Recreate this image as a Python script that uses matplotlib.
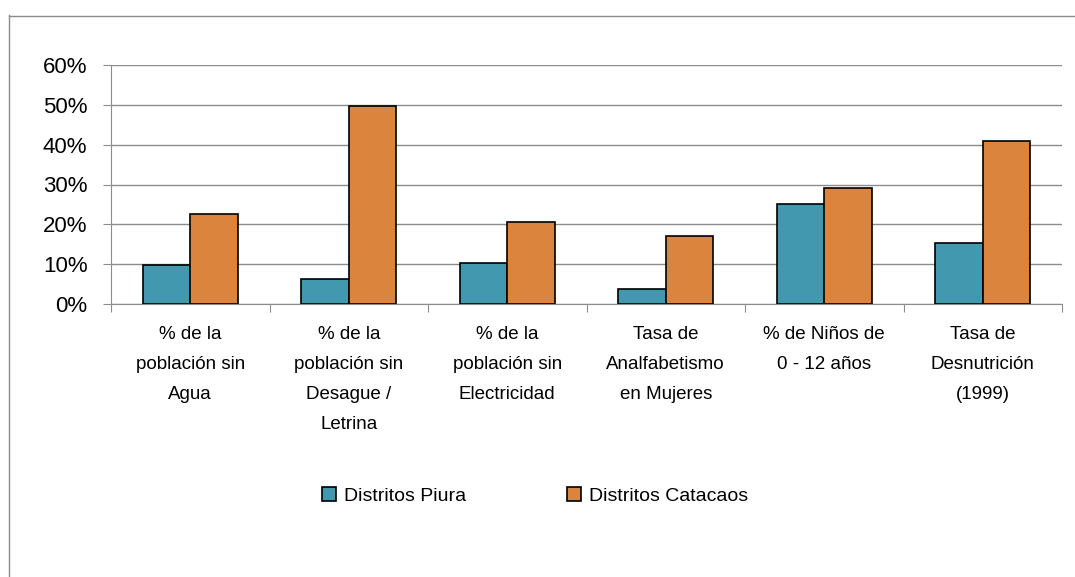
import matplotlib.pyplot as plt
import numpy as np
from matplotlib.lines import Line2D

categorias = [
    "% de la\npoblación sin\nAgua",
    "% de la\npoblación sin\nDesague /\nLetrina",
    "% de la\npoblación sin\nElectricidad",
    "Tasa de\nAnalfabetismo\nen Mujeres",
    "% de Niños de\n0 - 12 años",
    "Tasa de\nDesnutrición\n(1999)",
]
piura = [9.8, 6.3, 10.3, 3.8, 25.0, 15.2]
catacaos = [22.6, 49.7, 20.5, 17.1, 29.0, 40.8]
series = ["Distritos Piura", "Distritos Catacaos"]

plt.rcParams['font.family'] = ['Liberation Sans', 'DejaVu Sans']

fig = plt.figure(figsize=(10.75, 5.77), dpi=100)
ax = fig.add_axes([111/1075, 1 - 304/577, (1062 - 111)/1075, (304 - 65)/577])

x = np.arange(len(categorias))
w = 0.3
ax.bar(x - w/2, piura, w, color="#4198AF", edgecolor="black", linewidth=1.2,
       label=series[0], zorder=3)
ax.bar(x + w/2, catacaos, w, color="#DB843D", edgecolor="black", linewidth=1.2,
       label=series[1], zorder=3)

ax.set_xlim(-0.5, len(categorias) - 0.5)
ax.set_ylim(0, 60)
ax.set_yticks(range(0, 61, 10))
ax.set_yticklabels([f"{v}%" for v in range(0, 61, 10)], fontsize=16)
ax.yaxis.grid(True, color="#8c8c8c", linewidth=1, zorder=0)
ax.tick_params(axis="y", length=6, color="#8c8c8c", pad=11)

# marcas de separación entre categorías
ax.set_xticks(np.arange(-0.5, len(categorias), 1))
ax.set_xticklabels([])
ax.tick_params(axis="x", length=6, color="#8c8c8c", direction="out")
for i, c in enumerate(categorias):
    ax.text(i, -5.6, c, ha="center", va="top", fontsize=13.5,
            linespacing=1.98, transform=ax.transData)

for s in ["top", "right"]:
    ax.spines[s].set_visible(False)
for s in ["left", "bottom"]:
    ax.spines[s].set_color("#8c8c8c")

ax.legend(loc="center", bbox_to_anchor=(535/1075, 1 - 496/577),
          bbox_transform=fig.transFigure, ncol=2, frameon=False,
          fontsize=14, handlelength=0.72, handleheight=0.72,
          columnspacing=5.2, handletextpad=0.4)

# borde exterior del gráfico
fig.add_artist(Line2D([8.5/1075, 8.5/1075], [0, 1 - 15/577],
                      transform=fig.transFigure, color="#8c8c8c", linewidth=1))
fig.add_artist(Line2D([8.5/1075, 1], [1 - 15.5/577, 1 - 15.5/577],
                      transform=fig.transFigure, color="#8c8c8c", linewidth=1))

fig.savefig("out.png", dpi=100)
